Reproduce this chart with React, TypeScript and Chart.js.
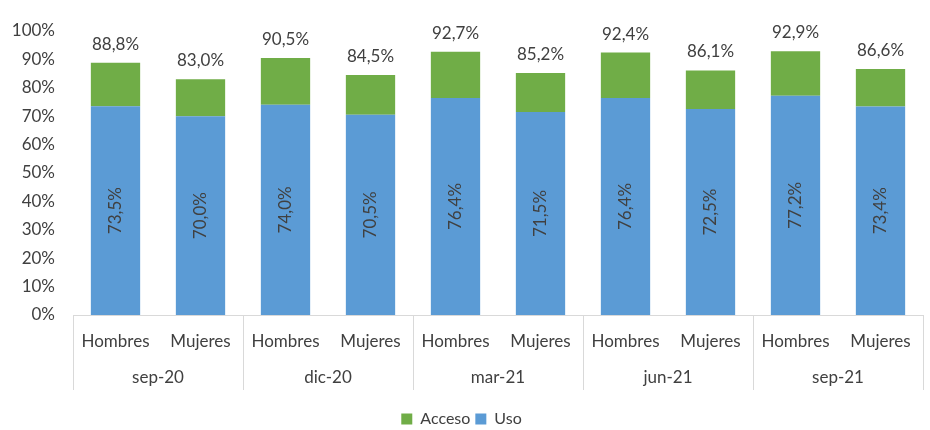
import React, { useEffect, useRef } from "react";
import { Chart, registerables } from "chart.js";

Chart.register(...registerables);

const categories = ["Hombres", "Mujeres", "Hombres", "Mujeres", "Hombres", "Mujeres", "Hombres", "Mujeres", "Hombres", "Mujeres"];
const periods = ["sep-20", "dic-20", "mar-21", "jun-21", "sep-21"];
const usoValues = [73.5, 70.0, 74.0, 70.5, 76.4, 71.5, 76.4, 72.5, 77.2, 73.4];
const accesoValues = [15.3, 13.0, 16.5, 14.0, 16.3, 13.7, 16.0, 13.6, 15.7, 13.2];
const totalLabels = ["88,8%", "83,0%", "90,5%", "84,5%", "92,7%", "85,2%", "92,4%", "86,1%", "92,9%", "86,6%"];
const usoLabels = ["73,5%", "70,0%", "74,0%", "70,5%", "76,4%", "71,5%", "76,4%", "72,5%", "77,2%", "73,4%"];

const FONT = "Lato, 'Open Sans', sans-serif";
const TEXT = "#404040";

const labelPlugin = {
  id: "labels",
  afterDatasetsDraw(chart: any) {
    const ctx = chart.ctx;
    const usoMeta = chart.getDatasetMeta(0);
    const accMeta = chart.getDatasetMeta(1);
    ctx.save();
    ctx.fillStyle = TEXT;
    ctx.font = `17px ${FONT}`;
    ctx.textAlign = "center";
    ctx.textBaseline = "alphabetic";
    accMeta.data.forEach((bar: any, i: number) => {
      ctx.fillText(totalLabels[i], bar.x, bar.y - 13);
    });
    usoMeta.data.forEach((bar: any, i: number) => {
      const midY = (bar.y + bar.base) / 2;
      ctx.save();
      ctx.translate(bar.x, midY);
      ctx.rotate(-Math.PI / 2);
      ctx.textBaseline = "middle";
      ctx.fillText(usoLabels[i], 0, 0);
      ctx.restore();
    });
    ctx.restore();
  },
  afterDraw(chart: any) {
    const ctx = chart.ctx;
    const area = chart.chartArea;
    const n = categories.length;
    const step = (area.right - area.left) / n;
    ctx.save();
    ctx.strokeStyle = "#d9d9d9";
    ctx.lineWidth = 1;
    ctx.beginPath();
    ctx.moveTo(area.left, Math.round(area.bottom) + 0.5);
    ctx.lineTo(area.right, Math.round(area.bottom) + 0.5);
    for (let g = 0; g <= periods.length; g++) {
      const x = Math.round(area.left + g * 2 * step) + 0.5;
      ctx.moveTo(x, area.bottom);
      ctx.lineTo(x, area.bottom + 75);
    }
    ctx.stroke();
    ctx.fillStyle = TEXT;
    ctx.font = `17px ${FONT}`;
    ctx.textAlign = "center";
    ctx.textBaseline = "middle";
    periods.forEach((p, g) => {
      const x = area.left + (g * 2 + 1) * step;
      ctx.fillText(p, x, area.bottom + 63);
    });
    ctx.restore();
  },
};

export default function App() {
  const ref = useRef<HTMLCanvasElement>(null);
  useEffect(() => {
    document.body.style.margin = "0";
    const chart = new Chart(ref.current!, {
      type: "bar",
      data: {
        labels: categories,
        datasets: [
          { label: "Uso", data: usoValues, backgroundColor: "#5B9BD5", barPercentage: 0.58, categoryPercentage: 1 },
          { label: "Acceso", data: accesoValues, backgroundColor: "#70AD47", barPercentage: 0.58, categoryPercentage: 1 },
        ],
      },
      options: {
        animation: false,
        responsive: false,
        maintainAspectRatio: false,
        layout: { padding: { top: 31, right: 7, left: 0, bottom: -7 } },
        plugins: {
          legend: {
            position: "bottom",
            reverse: true,
            labels: { boxWidth: 11, boxHeight: 11, color: TEXT, font: { family: FONT, size: 16 }, padding: 5 },
          },
          tooltip: { enabled: false },
        },
        scales: {
          x: {
            stacked: true,
            grid: { display: false, drawTicks: false },
            border: { display: false },
            ticks: { color: TEXT, font: { family: FONT, size: 17 }, padding: 16, maxRotation: 0 },
            afterFit: (s: any) => { s.height = 91; },
          },
          y: {
            stacked: true,
            min: 0,
            max: 100,
            grid: { display: false },
            border: { display: false },
            ticks: { stepSize: 10, color: TEXT, font: { family: FONT, size: 17 }, padding: 10, callback: (v: any) => `${v}%` },
            afterFit: (s: any) => { s.width = 73; },
          },
        },
      },
      plugins: [labelPlugin],
    });
    return () => chart.destroy();
  }, []);
  return (
    <div style={{ width: 930, height: 430, background: "#fff" }}>
      <canvas ref={ref} width={930} height={430} />
    </div>
  );
}
